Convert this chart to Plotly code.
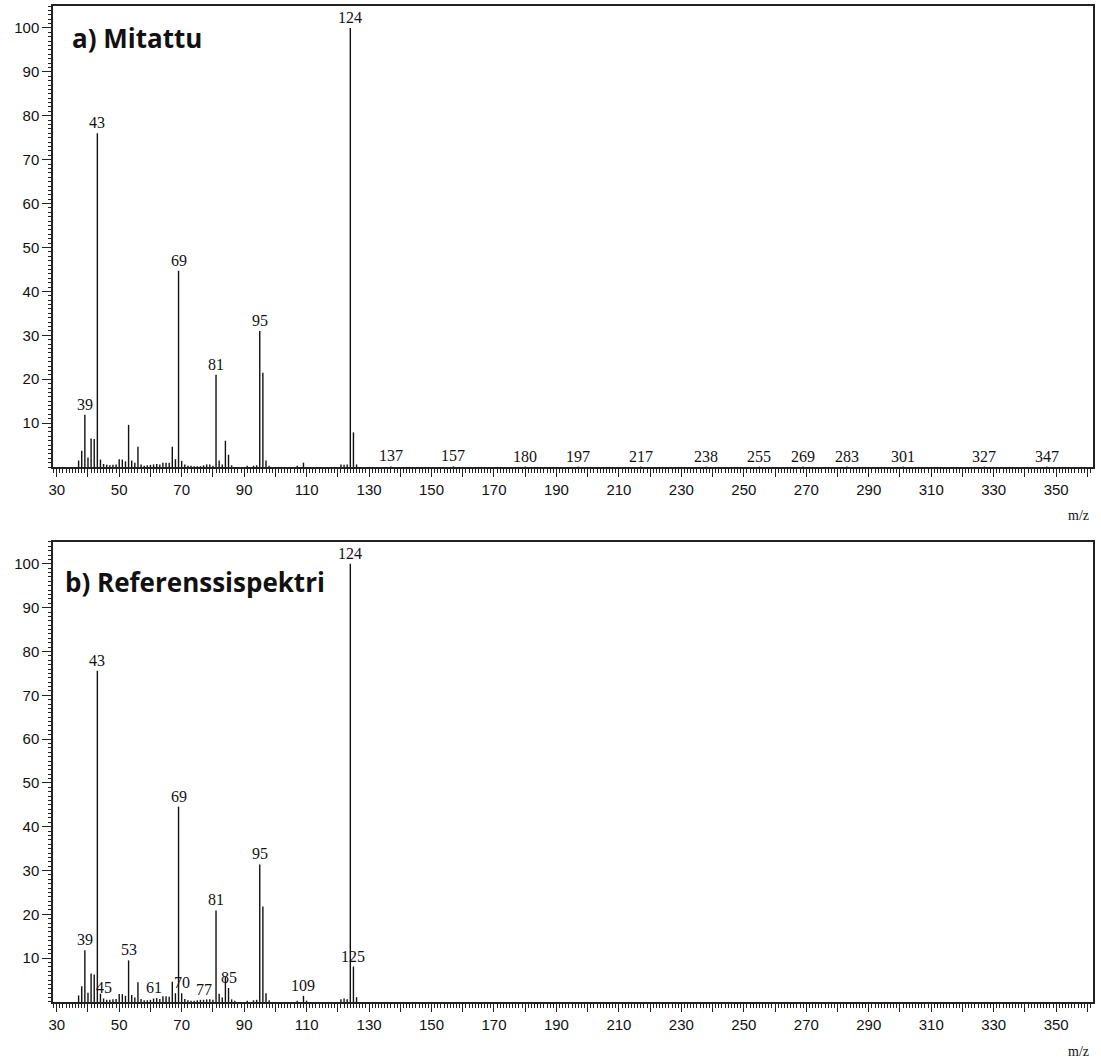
import plotly.graph_objects as go

# ---------------- data ----------------
top_mz = [37, 38, 39, 40, 41, 42, 43, 44, 45, 46, 47, 48, 49, 50, 51, 52, 53, 54, 55, 56,
          57, 58, 59, 60, 61, 62, 63, 64, 65, 66, 67, 68, 69, 70, 71, 72, 73, 74, 75, 76,
          77, 78, 79, 80, 81, 82, 83, 84, 85, 86, 91, 93, 94, 95, 96, 97, 98, 107, 109,
          121, 122, 123, 124, 125, 126,
          137, 157, 180, 197, 217, 238, 255, 269, 283, 301, 327, 347]
top_int = [1.5, 3.7, 11.9, 2.2, 6.5, 6.4, 76.0, 1.7, 0.7, 0.5, 0.4, 0.5, 0.6, 1.8, 1.7, 1.3, 9.6, 1.5, 1.0, 4.6,
           0.6, 0.3, 0.4, 0.5, 0.6, 0.7, 0.6, 1.0, 1.0, 1.0, 4.6, 1.8, 44.7, 1.4, 0.6, 0.3, 0.3, 0.2, 0.2, 0.2,
           0.4, 0.6, 0.6, 0.3, 21.0, 1.5, 0.6, 6.0, 2.8, 0.4, 0.3, 0.3, 0.4, 31.0, 21.5, 1.5, 0.3, 0.3, 1.0,
           0.6, 0.5, 0.6, 100.0, 7.9, 0.6,
           0.15, 0.15, 0.1, 0.1, 0.1, 0.1, 0.1, 0.1, 0.1, 0.1, 0.1, 0.1]
top_labels = [39, 43, 69, 81, 95, 124, 137, 157, 180, 197, 217, 238, 255, 269, 283, 301, 327, 347]

bot_mz = [37, 38, 39, 40, 41, 42, 43, 44, 45, 46, 47, 48, 49, 50, 51, 52, 53, 54, 55, 56,
          57, 58, 59, 60, 61, 62, 63, 64, 65, 66, 67, 68, 69, 70, 71, 72, 73, 74, 75, 76,
          77, 78, 79, 80, 81, 82, 83, 84, 85, 86, 87, 91, 93, 94, 95, 96, 97, 98, 107, 109, 110,
          121, 122, 123, 124, 125, 126]
bot_int = [1.5, 3.6, 11.8, 2.1, 6.5, 6.3, 75.6, 1.9, 0.8, 0.5, 0.5, 0.6, 0.7, 1.8, 1.8, 1.4, 9.5, 1.6, 1.0, 4.5,
           0.7, 0.4, 0.4, 0.5, 0.8, 0.9, 0.7, 1.3, 1.3, 1.2, 4.6, 2.0, 44.6, 2.0, 0.7, 0.4, 0.3, 0.3, 0.4, 0.5,
           0.5, 0.6, 0.6, 0.5, 20.9, 1.9, 1.0, 5.7, 3.2, 0.6, 0.3, 0.3, 0.4, 0.5, 31.4, 21.8, 2.0, 0.4, 0.3, 1.4, 0.3,
           0.6, 0.8, 0.6, 100.0, 8.1, 1.1]
bot_labels = [39, 43, 45, 53, 61, 69, 70, 77, 81, 85, 95, 109, 124, 125]

panel_titles = ["a) Mitattu", "b) Referenssispektri"]
x_tick_values = list(range(30, 361, 10))
y_tick_values = list(range(10, 101, 10))

# ---------------- figure ----------------
fig = go.Figure()


def sticks(mz, inten):
    xs, ys = [], []
    for m, v in zip(mz, inten):
        xs += [m, m, None]
        ys += [0, v, None]
    return xs, ys


for i, (mz, inten) in enumerate([(top_mz, top_int), (bot_mz, bot_int)]):
    xs, ys = sticks(mz, inten)
    ax = "" if i == 0 else "2"
    fig.add_trace(go.Scatter(x=xs, y=ys, mode="lines", line=dict(color="#111111", width=1.4),
                             xaxis="x" + ax, yaxis="y" + ax, showlegend=False, hoverinfo="skip"))

FONT_TICK = dict(family="Liberation Sans, Arial, sans-serif", size=15, color="#111111")
FONT_PEAK = dict(family="Liberation Serif, Times New Roman, serif", size=16, color="#111111")

xaxis_common = dict(
    range=[28.8, 361.8], showline=True, linecolor="#222222", linewidth=1.5, mirror=True,
    ticks="outside", ticklen=8, tickwidth=1.3, tickcolor="#222222",
    tickmode="array", tickvals=x_tick_values,
    ticktext=[str(v) if (v - 30) % 20 == 0 else "" for v in x_tick_values],
    minor=dict(dtick=1, tick0=0, ticks="outside", ticklen=4, tickwidth=1.2, tickcolor="#222222", showgrid=False),
    showgrid=False, zeroline=False, tickfont=FONT_TICK,
)
yaxis_common = dict(
    range=[0, 105], showline=True, linecolor="#222222", linewidth=1.5, mirror=True,
    ticks="outside", ticklen=9, tickwidth=1.3, tickcolor="#222222",
    tickmode="array", tickvals=y_tick_values, ticktext=[str(v) for v in y_tick_values],
    minor=dict(dtick=1, tick0=0, ticks="outside", ticklen=3, tickwidth=1, tickcolor="#222222", showgrid=False),
    showgrid=False, zeroline=False, tickfont=FONT_TICK,
)

fig.update_layout(
    width=1101, height=1060,
    margin=dict(l=53, r=8, t=4, b=58),
    paper_bgcolor="white", plot_bgcolor="white",
    xaxis=dict(**xaxis_common, domain=[0, 1], anchor="y"),
    yaxis=dict(**yaxis_common, domain=[0.5371, 1.0], anchor="x"),
    xaxis2=dict(**xaxis_common, domain=[0, 1], anchor="y2"),
    yaxis2=dict(**yaxis_common, domain=[0.0, 0.4619], anchor="x2"),
)

annotations = []
for i, (mz, inten, labels) in enumerate([(top_mz, top_int, top_labels), (bot_mz, bot_int, bot_labels)]):
    ax = "" if i == 0 else "2"
    lookup = dict(zip(mz, inten))
    for lab in labels:
        annotations.append(dict(x=lab, y=lookup[lab], xref="x" + ax, yref="y" + ax, text=str(lab),
                                showarrow=False, xanchor="center", yanchor="bottom", yshift=0,
                                font=FONT_PEAK))

# panel titles
annotations.append(dict(x=0.0163, y=0.93, xref="x domain", yref="y domain",
                        text="<b>" + panel_titles[0] + "</b>",
                        showarrow=False, xanchor="left", yanchor="middle",
                        font=dict(family="Open Sans, sans-serif", size=26, color="#111111")))
annotations.append(dict(x=0.0096, y=0.912, xref="x2 domain", yref="y2 domain",
                        text="<b>" + panel_titles[1] + "</b>",
                        showarrow=False, xanchor="left", yanchor="middle",
                        font=dict(family="Open Sans, sans-serif", size=26, color="#111111")))
# axis labels m/z
for yv in [0.488, -0.050]:
    annotations.append(dict(x=0.9856, y=yv, xref="paper", yref="paper", text="m/z", showarrow=False,
                            xanchor="center", yanchor="middle",
                            font=dict(family="Liberation Serif, serif", size=14, color="#111111")))

fig.update_layout(annotations=annotations)
fig.write_html("out.html")
